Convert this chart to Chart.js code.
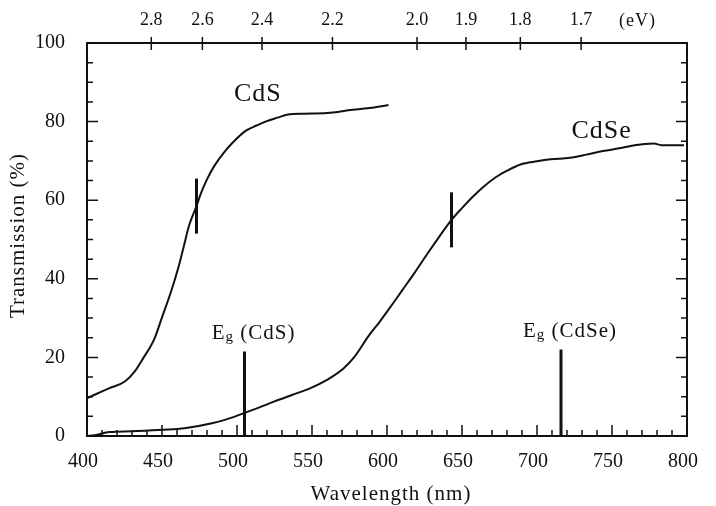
<!DOCTYPE html>
<html lang="en">
<head>
<meta charset="utf-8">
<title>Transmission spectra: CdS and CdSe</title>
<script src="https://cdn.jsdelivr.net/npm/chart.js@4.4.1/dist/chart.umd.min.js"></script>
<style>
    html, body { margin: 0; padding: 0; background: #fff; }
    #wrap { width: 716px; height: 506px; }
</style>
</head>
<body>
<div id="wrap"><canvas id="spectrumChart" width="716" height="506"></canvas></div>
<script>
// Спектр пропускания CdS (нм / %)
const cdsWavelength = [400, 405, 415, 425, 432, 437, 445, 450, 456, 461, 465, 468, 473, 476, 480, 485, 491, 498, 506, 513, 519, 527, 534, 545, 560, 577, 590, 601];
const cdsTransmission = [9.6, 10.5, 12.2, 13.8, 16.5, 19.5, 24.8, 30.2, 36.7, 43, 49, 53.5, 58.5, 61.8, 65.3, 68.8, 72, 75, 77.7, 79, 80, 81, 81.8, 82, 82.2, 83, 83.5, 84.2];

// Спектр пропускания CdSe (нм / %)
const cdseWavelength = [400, 405, 415, 430, 450, 465, 484, 499, 506, 515, 525, 537, 549, 560, 571, 578, 588, 595, 603, 610, 618, 625, 635, 643, 650, 657, 664, 672, 680, 689, 700, 709, 722, 733, 744, 755, 765, 778, 783, 798];
const cdseTransmission = [0, 0.2, 1, 1.2, 1.6, 2, 3.3, 5, 6, 7.3, 8.8, 10.5, 12.2, 14.3, 17.2, 20, 25.6, 29, 33.2, 37, 41.3, 45.3, 50.8, 55, 58, 60.8, 63.3, 65.7, 67.5, 69.1, 69.9, 70.4, 70.8, 71.6, 72.5, 73.2, 74, 74.4, 74, 74];

// Вертикальные отметки на кривых: длина волны и диапазон по оси Y
const markWavelength = [473, 643];
const markFrom = [51.5, 48];
const markTo = [65.5, 62];

// Ширина запрещённой зоны Eg: положение и высота линии
const egNames = ["CdS", "CdSe"];
const egWavelength = [505, 716];
const egHeight = [21.5, 22];

// Деления верхней оси в эВ
const eVTicks = [2.8, 2.6, 2.4, 2.2, 2.0, 1.9, 1.8, 1.7];

const SERIF = "'Liberation Serif', 'Times New Roman', serif";
const INK = "#111";

// Подписи образцов (точка привязки в координатах данных)
const sampleLabels = [
    { text: "CdS", at: [498, 85.2] },
    { text: "CdSe", at: [723, 75.8] }
];

function toPoints(xs, ys) {
    return xs.map((x, i) => ({ x, y: ys[i] }));
}

function lineSet(points, width, smooth) {
    return {
        data: points,
        borderColor: INK,
        borderWidth: width,
        pointRadius: 0,
        fill: false,
        cubicInterpolationMode: smooth ? "monotone" : "default"
    };
}

const datasets = [
    lineSet(toPoints(cdsWavelength, cdsTransmission), 2, true),
    lineSet(toPoints(cdseWavelength, cdseTransmission), 2, true)
];
markWavelength.forEach((w, i) => {
    datasets.push(lineSet([{ x: w, y: markFrom[i] }, { x: w, y: markTo[i] }], 3, false));
});
egWavelength.forEach((w, i) => {
    datasets.push(lineSet([{ x: w, y: 0 }, { x: w, y: egHeight[i] }], 3, false));
});

// Внутренние засечки на всех четырёх осях
const tickMarks = {
    id: "tickMarks",
    afterDraw(chart) {
        const { ctx, chartArea: a, scales } = chart;
        ctx.save();
        ctx.strokeStyle = INK;
        ctx.lineWidth = 1.5;
        ctx.beginPath();
        for (let v = 0; v <= 100; v += 5) {
            const py = scales.y.getPixelForValue(v);
            const len = v % 20 === 0 ? 11 : 6;
            ctx.moveTo(a.left, py); ctx.lineTo(a.left + len, py);
            ctx.moveTo(a.right, py); ctx.lineTo(a.right - len, py);
        }
        for (let v = 400; v <= 800; v += 10) {
            const px = scales.x.getPixelForValue(v);
            const len = v % 50 === 0 ? 11 : 6;
            ctx.moveTo(px, a.bottom); ctx.lineTo(px, a.bottom - len);
        }
        eVTicks.forEach(e => {
            const px = scales.top.getPixelForValue(1240 / e);
            ctx.moveTo(px, a.top - 6); ctx.lineTo(px, a.top + 7);
        });
        ctx.stroke();
        ctx.restore();
    }
};

// Текстовые подписи: образцы, Eg, названия осей
const textLabels = {
    id: "textLabels",
    afterDraw(chart) {
        const { ctx, chartArea: a, scales: { x, y, top } } = chart;
        ctx.save();
        ctx.fillStyle = INK;
        ctx.letterSpacing = "1px";

        ctx.font = `26px ${SERIF}`;
        ctx.textAlign = "left";
        ctx.textBaseline = "alphabetic";
        sampleLabels.forEach(l => {
            ctx.fillText(l.text, x.getPixelForValue(l.at[0]), y.getPixelForValue(l.at[1]));
        });

        // Eg (...) с опущенной маленькой g
        egNames.forEach((name, i) => {
            const cx = x.getPixelForValue(egWavelength[i]) + 9;
            const by = y.getPixelForValue(egHeight[i]) - 13;
            const rest = ` (${name})`;
            ctx.font = `21px ${SERIF}`;
            const wE = ctx.measureText("E").width;
            const wRest = ctx.measureText(rest).width;
            ctx.font = `15px ${SERIF}`;
            const wg = ctx.measureText("g").width;
            const sx = cx - (wE + wg + wRest) / 2;
            ctx.font = `21px ${SERIF}`;
            ctx.fillText("E", sx, by);
            ctx.font = `15px ${SERIF}`;
            ctx.fillText("g", sx + wE, by + 2);
            ctx.font = `21px ${SERIF}`;
            ctx.fillText(rest, sx + wE + wg, by);
        });

        ctx.font = `21px ${SERIF}`;
        ctx.textAlign = "center";
        ctx.fillText("Wavelength (nm)", (a.left + a.right) / 2 + 4, 500);

        ctx.save();
        ctx.translate(24, (a.top + a.bottom) / 2 - 4);
        ctx.rotate(-Math.PI / 2);
        ctx.fillText("Transmission (%)", 0, 0);
        ctx.restore();

        ctx.font = `18px ${SERIF}`;
        ctx.textBaseline = "middle";
        ctx.fillText("(eV)", top.getPixelForValue(767), 21);
        ctx.restore();
    }
};

const axisBorder = { display: true, color: INK, width: 2 };
const noGrid = { display: false, drawTicks: false };

new Chart(document.getElementById("spectrumChart"), {
    type: "line",
    data: { datasets },
    options: {
        responsive: false,
        animation: false,
        devicePixelRatio: 1,
        layout: { padding: 0 },
        plugins: { legend: { display: false }, tooltip: { enabled: false } },
        scales: {
            x: {
                type: "linear", position: "bottom", min: 400, max: 800,
                ticks: { stepSize: 50, padding: 14, labelOffset: -4, color: INK, maxRotation: 0, autoSkip: false, font: { family: SERIF, size: 20 } },
                grid: noGrid, border: axisBorder,
                afterFit: s => { s.height = 70; }
            },
            top: {
                type: "linear", position: "top", min: 400, max: 800,
                afterBuildTicks: s => { s.ticks = eVTicks.map(e => ({ value: 1240 / e })); },
                ticks: { padding: 12, color: INK, maxRotation: 0, autoSkip: false, font: { family: SERIF, size: 18 },
                         callback: v => (1240 / v).toFixed(1) },
                grid: noGrid, border: axisBorder,
                afterFit: s => { s.height = 43; }
            },
            y: {
                type: "linear", position: "left", min: 0, max: 100,
                ticks: { stepSize: 20, padding: 22, color: INK, font: { family: SERIF, size: 20 } },
                grid: noGrid, border: axisBorder,
                afterFit: s => { s.width = 87; }
            },
            y2: {
                type: "linear", position: "right", min: 0, max: 100,
                ticks: { display: false },
                grid: noGrid, border: axisBorder,
                afterFit: s => { s.width = 14; }
            }
        }
    },
    plugins: [tickMarks, textLabels]
});
</script>
</body>
</html>
